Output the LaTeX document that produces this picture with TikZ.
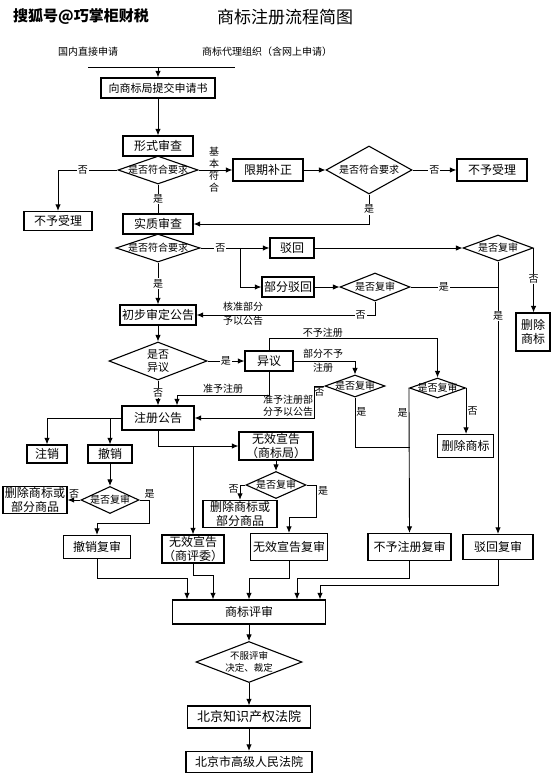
\documentclass[tikz,border=0pt]{standalone}
\usepackage{fontspec}
\newfontfamily\cjk{Noto Sans CJK SC}
\usepackage{tikz}
\usetikzlibrary{arrows.meta,shapes.geometric}
\newcommand{\dtx}[1]{\makebox[0pt]{#1}}

\begin{document}
\begin{tikzpicture}[x=1pt, y=-1pt, every node/.style={font=\cjk\fontsize{12}{14}\selectfont},
  box/.style={draw, line width=1.2pt, inner sep=1pt, align=center},
  dia/.style={diamond, draw, line width=1.1pt, inner sep=0pt, font=\cjk\fontsize{10}{12}\selectfont},
  lbl/.style={font=\cjk\fontsize{10}{12}\selectfont, inner sep=1pt},
  wlbl/.style={lbl, fill=white},
  arr/.style={-{Latex[length=6.5pt,width=5.5pt]}, line width=0.9pt},
  ln/.style={line width=0.9pt}]
  \fill[white] (0,0) rectangle (553,775);
  \useasboundingbox (0,0) rectangle (553,775);
  \node[font=\cjk\bfseries\fontsize{15}{15}\selectfont] (wm) at (81,17) {搜狐号@巧掌柜财税};
  \node[font=\cjk\fontsize{17}{17}\selectfont] (ttl) at (285,17) {商标注册流程简图};
  \node[lbl] (src1) at (88,52) {国内直接申请};
  \node[lbl] (src2) at (267,52) {商标代理组织（含网上申请）};
  \coordinate (tl) at (88,67);
  \coordinate (tr) at (235,67);
  \node[box, minimum width=114, minimum height=20, font=\cjk\fontsize{11}{13}\selectfont] (sub) at (158,88) {向商标局提交申请书};
  \node[box, minimum width=70, minimum height=20] (xs) at (158,146) {形式审查};
  \node[dia, minimum width=80, minimum height=28] (d1) at (158,170) {\dtx{是否符合要求}};
  \node[box, minimum width=68, minimum height=19] (nb1) at (58,221) {不予受理};
  \node[box, minimum width=70, minimum height=22] (xq) at (268,170) {限期补正};
  \node[dia, minimum width=86, minimum height=48] (d2) at (369,170) {\dtx{是否符合要求}};
  \node[box, minimum width=70, minimum height=22] (nb2) at (492,170) {不予受理};
  \node[box, minimum width=70, minimum height=20] (sz) at (158,224) {实质审查};
  \node[dia, minimum width=84, minimum height=28] (d3) at (158,248) {\dtx{是否符合要求}};
  \coordinate (j1) at (240,248);
  \node[box, minimum width=44, minimum height=20] (bh) at (292,248) {驳回};
  \node[dia, minimum width=70, minimum height=26] (d5) at (498,248) {\dtx{是否复审}};
  \node[box, minimum width=52, minimum height=20] (bfbh) at (288,287) {部分驳回};
  \node[dia, minimum width=70, minimum height=28] (d4) at (375,287) {\dtx{是否复审}};
  \node[box, minimum width=76, minimum height=20] (cb) at (158,315) {初步审定公告};
  \node[box, minimum width=34, minimum height=38] (sc1) at (533,332) {删除\\商标};
  \node[dia, minimum width=98, minimum height=38, font=\cjk\fontsize{11}{13}\selectfont] (d6) at (158,361) {\dtx{\shortstack{是否\\异议}}};
  \node[box, minimum width=48, minimum height=20] (yy) at (269,361) {异议};
  \node[dia, minimum width=60, minimum height=22] (d7) at (355,386) {\dtx{是否复审}};
  \node[dia, minimum width=56, minimum height=20] (d8) at (437.5,388) {\dtx{是否复审}};
  \node[box, minimum width=72, minimum height=24] (zc) at (158,418) {注册公告};
  \node[box, minimum width=40, minimum height=18] (zx) at (47,454) {注销};
  \node[box, minimum width=44, minimum height=18] (cx) at (110,454) {撤销};
  \node[box, minimum width=74, minimum height=28] (wx1) at (276,446) {无效宣告\\（商标局）};
  \node[box, minimum width=56, minimum height=23] (sc2) at (465.5,446) {删除商标};
  \node[dia, minimum width=58, minimum height=27] (d10) at (110,500) {\dtx{是否复审}};
  \node[box, minimum width=64, minimum height=27] (scl) at (35,500) {删除商标或\\部分商品};
  \node[dia, minimum width=60, minimum height=27] (d9) at (276,485) {\dtx{是否复审}};
  \node[box, minimum width=74, minimum height=25] (sc3) at (240,514) {删除商标或\\部分商品};
  \node[box, minimum width=67, minimum height=23] (cxfs) at (97,547) {撤销复审};
  \node[box, minimum width=62, minimum height=28] (wx2) at (193,549) {无效宣告\\（商评委）};
  \node[box, minimum width=77, minimum height=27] (wfs) at (289,547) {无效宣告复审};
  \node[box, minimum width=83, minimum height=27] (bzfs) at (409.5,547) {不予注册复审};
  \node[box, minimum width=70, minimum height=25] (bhfs) at (498,547) {驳回复审};
  \node[box, minimum width=153, minimum height=24] (pjs) at (249,612) {商标评审};
  \node[dia, minimum width=106, minimum height=41, font=\cjk\fontsize{9.5}{11}\selectfont] (d11) at (249,662) {\dtx{\shortstack{不服评审\\决定、裁定}}};
  \node[box, minimum width=123, minimum height=22, font=\cjk\fontsize{13}{15}\selectfont] (fy1) at (249,717) {北京知识产权法院};
  \node[box, minimum width=126, minimum height=21] (fy2) at (249,762) {北京市高级人民法院};
  \node[lbl, align=center] (jbfh) at (214,170) {基\\本\\符\\合};
  \draw[ln] (tl) -- (tr);
  \draw[arr] (sub.north |- tl) -- (sub.north);
  \draw[arr] (sub) -- (xs);
  \draw[arr] (d1.west) -| node[wlbl, pos=.29] {否} (nb1.north);
  \draw[ln] (d1.south) -- node[wlbl] {是} (sz.north);
  \draw[arr] (d1.east) -- (xq.west);
  \draw[arr] (xq) -- (d2);
  \draw[arr] (d2) -- node[wlbl] {否} (nb2);
  \draw[arr] (d2.south) |- node[wlbl, pos=.25] {是} (sz.east);
  \draw[ln] (d3.east) -- node[wlbl] {否} (j1);
  \draw[arr] (j1) -- (bh.west);
  \draw[arr] (j1) |- (bfbh.west);
  \draw[arr] (d3.south) -- node[wlbl] {是} (cb.north);
  \draw[arr] (bh) -- (d5);
  \draw[arr] (d5.east) -- node[wlbl, pos=.48] {否} (d5.east |- sc1.north);
  \draw[arr] (bfbh) -- (d4);
  \draw[ln] (d4.east) -- node[wlbl, pos=.38] {是} (d4.east -| d5.south);
  \draw[arr] (d5.south) -- node[wlbl, pos=.2] {是} (bhfs.north);
  \draw[arr] (d4.south) |- node[wlbl, pos=.54] {否} (cb.east);
  \node[lbl, align=center, font=\cjk\fontsize{10}{14}\selectfont] (hzbf) at (243,314) {核准部分\\予以公告};
  \draw[arr] (cb) -- (d6);
  \draw[arr] (d6) -- node[wlbl] {是} (yy);
  \draw[arr] (d6) -- node[wlbl] {否} (zc);
  \coordinate (c2) at (177,395);
  \draw[arr] (yy.south) |- node[lbl, pos=.75, above] {准予注册} (c2) -- (c2 |- zc.north);
  \draw[arr] (yy.north) -- ++(0,-12) -| node[lbl, pos=.16, above] {不予注册} (d8.north);
  \draw[arr] (yy.east) -| node[lbl, pos=.24, align=center, font=\cjk\fontsize{10}{14}\selectfont] {部分不予\\注册} (d7.north);
  \draw[arr] (d7.west) -- node[lbl, below] {否} ++(-10,0) |- node[lbl, pos=.61, above, align=center, font=\cjk\fontsize{10}{12}\selectfont] {准予注册部\\分予以公告} (zc.east);
  \coordinate (c4) at (409.5,447);
  \draw[ln] (d7.south) |- node[lbl, pos=.15, right] {是} (c4);
  \draw[arr] (d8.west) -- node[lbl, pos=.17, left] {是} (bzfs.north);
  \draw[arr] (d8.east) -- node[lbl, right] {否} (d8.east |- sc2.north);
  \draw[arr] (zc.west) -| (zx.north);
  \draw[arr] (cx.north |- zc.west) -- (cx.north);
  \draw[arr] (zc.south) |- (wx1.west);
  \draw[arr] (wx2.north |- wx1.west) -- (wx2.north);
  \draw[arr] (wx1) -- (d9);
  \draw[arr] (d9.west) -| node[lbl, pos=.65, left] {否} (sc3.north);
  \draw[arr] (d9.east) -| node[lbl, pos=.6, right] {是} ++(10,32) -| (wfs.north);
  \draw[arr] (cx) -- (d10);
  \draw[arr] (d10.west) -- node[lbl, above] {否} (scl.east);
  \draw[arr] (d10.east) -| node[lbl, pos=.5, above] {是} ++(10,23) -| (cxfs.north);
  \draw[arr] (cxfs.south) -- ++(0,19) -| ([xshift=-62pt]pjs.north);
  \draw[arr] (wx2.south) -- ++(0,12) -| ([xshift=-36pt]pjs.north);
  \draw[arr] (wfs.south) -- ++(0,17) -| (pjs.north);
  \draw[arr] (bzfs.south) -- ++(0,17) -| ([xshift=48pt]pjs.north);
  \draw[arr] (bhfs.south) -- ++(0,25) -| ([xshift=71pt]pjs.north);
  \draw[arr] (pjs) -- (d11);
  \draw[arr] (d11) -- (fy1);
  \draw[arr] (fy1) -- (fy2);
\end{tikzpicture}
\end{document}
